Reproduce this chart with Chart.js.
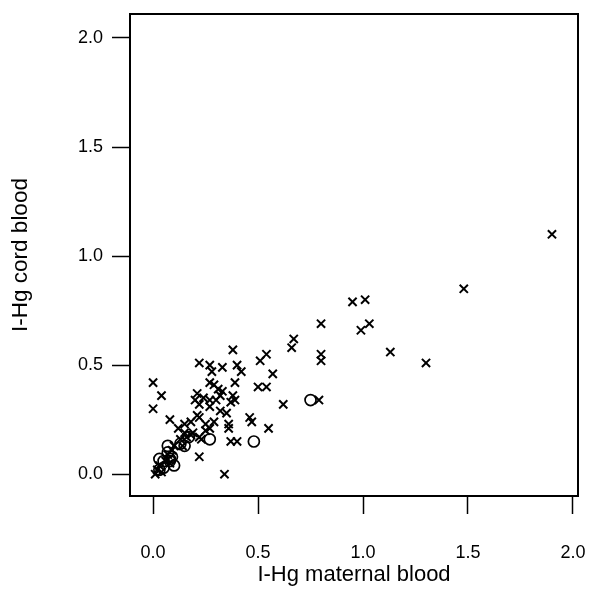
<!DOCTYPE html>
<html>
<head>
<meta charset="utf-8">
<script src="https://cdn.jsdelivr.net/npm/chart.js@4/dist/chart.umd.min.js"></script>
<style>
  html, body { margin: 0; padding: 0; background: #fff; }
  #wrap { width: 592px; height: 589px; }
</style>
</head>
<body>
<div id="wrap"><canvas id="chart" width="592" height="589"></canvas></div>
<script>
// Tick labels
const tickValues = [0, 0.5, 1.0, 1.5, 2.0];

// Crosses: maternal blood (x) vs cord blood (y)
const crossX = [0.00, 0.04, 0.00, 0.08, 0.12, 0.15, 0.19, 0.22, 0.27, 0.33, 0.38, 0.40, 0.42, 0.28,
  0.51, 0.54, 0.57, 0.27, 0.29, 0.31, 0.39, 0.33, 0.50, 0.54, 0.21, 0.20, 0.24, 0.27, 0.30, 0.32,
  0.38, 0.39, 0.37, 0.22, 0.27, 0.32, 0.35, 0.21, 0.22, 0.25, 0.29, 0.27, 0.36, 0.36, 0.46, 0.47,
  0.55, 0.37, 0.40, 0.22, 0.34, 0.04, 0.62, 0.67, 0.66, 0.80, 0.95, 1.01, 1.03, 0.99, 1.13, 0.80,
  0.80, 1.30, 0.79, 1.48, 1.90, 0.13, 0.14, 0.16, 0.18, 0.03, 0.02, 0.06, 0.07, 0.09, 0.10, 0.01,
  0.08, 0.22, 0.23, 0.15, 0.18, 0.25];
const crossY = [0.42, 0.36, 0.30, 0.25, 0.21, 0.19, 0.19, 0.51, 0.50, 0.49, 0.57, 0.50, 0.47, 0.47,
  0.52, 0.55, 0.46, 0.42, 0.41, 0.39, 0.42, 0.38, 0.40, 0.40, 0.37, 0.34, 0.35, 0.34, 0.34, 0.36,
  0.36, 0.34, 0.33, 0.32, 0.31, 0.29, 0.28, 0.27, 0.26, 0.23, 0.24, 0.21, 0.23, 0.21, 0.26, 0.24,
  0.21, 0.15, 0.15, 0.08, 0.00, 0.01, 0.32, 0.62, 0.58, 0.69, 0.79, 0.80, 0.69, 0.66, 0.56, 0.55,
  0.52, 0.51, 0.34, 0.85, 1.10, 0.16, 0.13, 0.17, 0.18, 0.04, 0.02, 0.06, 0.09, 0.11, 0.13, 0.00,
  0.05, 0.17, 0.16, 0.23, 0.24, 0.20];

// Circles
const circleX = [0.27, 0.48, 0.75, 0.17, 0.15, 0.13, 0.07, 0.03, 0.09, 0.10, 0.05, 0.07, 0.08, 0.05, 0.03, 0.08];
const circleY = [0.16, 0.15, 0.34, 0.17, 0.13, 0.14, 0.13, 0.07, 0.08, 0.04, 0.06, 0.10, 0.06, 0.03, 0.02, 0.07];

const xTitle = 'I-Hg maternal blood';
const yTitle = 'I-Hg cord blood';

function toPoints(xs, ys) {
  return xs.map((x, i) => ({ x: x, y: ys[i] }));
}

// box round the plot area, like the base graphics frame
const frameBox = {
  id: 'frameBox',
  afterDraw(chart) {
    const { ctx, chartArea: a } = chart;
    ctx.save();
    ctx.strokeStyle = '#000';
    ctx.lineWidth = 2;
    ctx.strokeRect(a.left, a.top, a.right - a.left, a.bottom - a.top);
    ctx.restore();
  }
};

const fixTicks = scale => { scale.ticks = tickValues.map(v => ({ value: v })); };
const fmt = v => Number(v).toFixed(1);

const axisBase = {
  type: 'linear',
  afterBuildTicks: fixTicks,
  grid: { display: true, drawOnChartArea: false, drawTicks: true, tickLength: 18, tickWidth: 1.5, tickColor: '#000' },
  border: { display: true, color: '#000', width: 2 }
};

const font = size => ({ family: 'Liberation Sans, Arial', size: size });

new Chart(document.getElementById('chart'), {
  type: 'scatter',
  data: {
    datasets: [
      {
        label: 'cross',
        data: toPoints(crossX, crossY),
        pointStyle: 'crossRot',
        pointRadius: 5.8,
        borderColor: '#000',
        borderWidth: 2
      },
      {
        label: 'circle',
        data: toPoints(circleX, circleY),
        pointStyle: 'circle',
        pointRadius: 5.5,
        borderColor: '#000',
        backgroundColor: 'rgba(0,0,0,0)',
        borderWidth: 1.7
      }
    ]
  },
  options: {
    responsive: false,
    animation: false,
    layout: { padding: { top: 14, right: 14, left: 0, bottom: 0 } },
    plugins: { legend: { display: false }, tooltip: { enabled: false } },
    scales: {
      x: {
        ...axisBase,
        min: -0.11,
        max: 2.024,
        afterFit: s => { s.height = 93; s.paddingLeft = 0; s.paddingRight = 0; },
        ticks: { color: '#000', font: font(18), padding: 28, callback: fmt, maxRotation: 0 },
        title: { display: true, text: xTitle, color: '#000', font: font(22), padding: { top: 0, bottom: 1 } }
      },
      y: {
        ...axisBase,
        min: -0.10,
        max: 2.11,
        afterFit: s => { s.width = 130; s.paddingTop = 0; s.paddingBottom = 0; },
        ticks: { color: '#000', font: font(18), padding: 9, callback: fmt },
        title: { display: true, text: yTitle, color: '#000', font: font(22.5), padding: { top: 7, bottom: 0 } }
      }
    }
  },
  plugins: [frameBox]
});
</script>
</body>
</html>
